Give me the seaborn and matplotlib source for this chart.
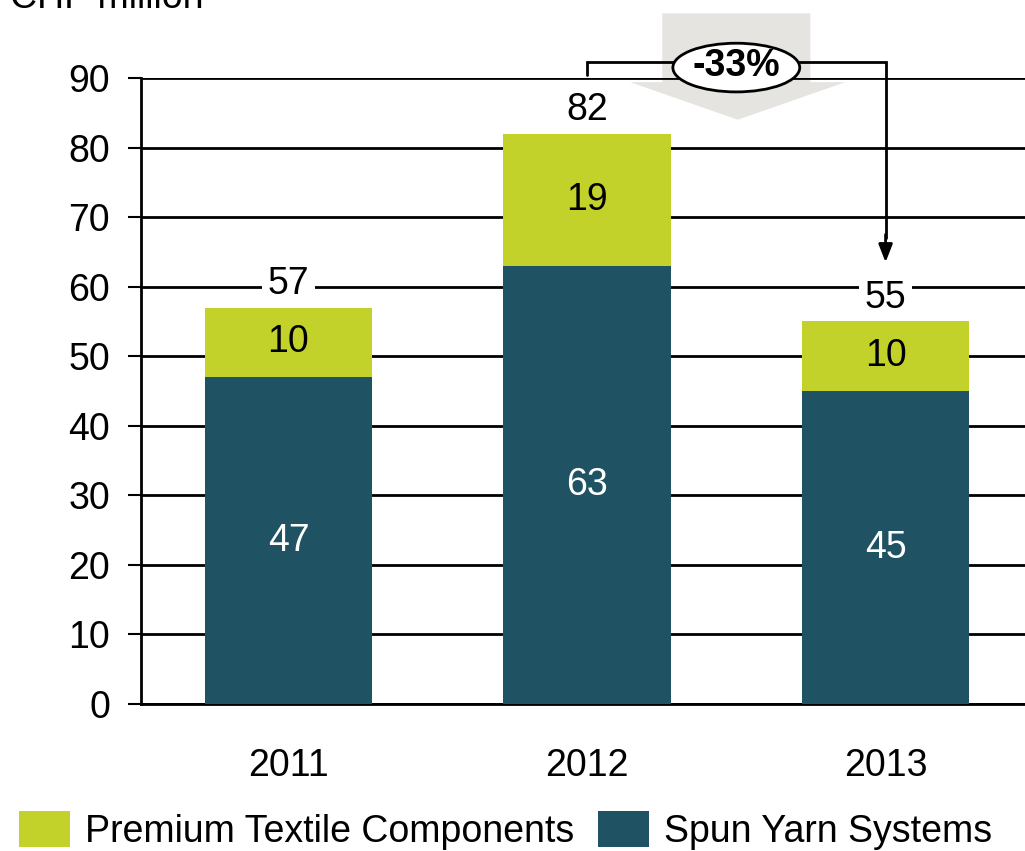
import matplotlib
matplotlib.use("Agg")
import matplotlib.pyplot as plt
import seaborn as sns
import pandas as pd
from matplotlib.patches import Polygon, Ellipse, Patch

# Order intake by segment, CHF million
years = ["2011", "2012", "2013"]
spun_yarn = [47, 63, 45]
premium_textile = [10, 19, 10]
totals = [a + b for a, b in zip(spun_yarn, premium_textile)]
change_label = "-33%"
series_names = ["Premium Textile Components", "Spun Yarn Systems"]

GREEN = "#c2d22a"
TEAL = "#1f5263"
ARROW_GREY = "#e6e4e0"

sns.set_theme(style="white")
plt.rcParams["font.family"] = ["Liberation Sans", "DejaVu Sans"]
plt.rcParams.update({"text.color": "black", "xtick.color": "black",
                     "ytick.color": "black", "axes.labelcolor": "black"})

df = pd.DataFrame({"year": years, "spun": spun_yarn, "total": totals})

fig = plt.figure(figsize=(10.25, 8.51), dpi=100)
ax = fig.add_axes([141 / 1025, 1 - 704 / 851, 1 - 141 / 1025, (704 - 78) / 851])

# stacked bars: full height in green, lower segment in teal on top of it
sns.barplot(data=df, x="year", y="total", order=years, color=GREEN,
            width=0.56, saturation=1, linewidth=0, ax=ax, zorder=2)
sns.barplot(data=df, x="year", y="spun", order=years, color=TEAL,
            width=0.56, saturation=1, linewidth=0, ax=ax, zorder=3)

ax.set_ylim(0, 90)
ax.set_xlim(-0.494, 2.467)
ax.set_yticks(range(0, 91, 10))
ax.set_xlabel("")
ax.set_ylabel("")
ax.set_axisbelow(True)
ax.yaxis.grid(True, color="black", linewidth=2, zorder=0.5)
ax.xaxis.grid(False)
for side in ["top", "right"]:
    ax.spines[side].set_visible(False)
ax.spines["left"].set_color("black")
ax.spines["left"].set_linewidth(2)
ax.spines["bottom"].set_color("black")
ax.spines["bottom"].set_linewidth(2)
ax.tick_params(axis="y", length=9.4, width=1.5, color="black", pad=13,
               labelsize=27, left=True)
ax.tick_params(axis="x", length=0, pad=32, labelsize=27)

# segment and total labels
for i in range(len(years)):
    ax.text(i, spun_yarn[i] / 2, f"{spun_yarn[i]}", ha="center", va="center",
            color="white", fontsize=27, zorder=5)
    ax.text(i, spun_yarn[i] + premium_textile[i] / 2, f"{premium_textile[i]}",
            ha="center", va="center", color="black", fontsize=27, zorder=5)
    ax.annotate(f"{totals[i]}", xy=(i, totals[i]), xytext=(0, 17),
                textcoords="offset points", ha="center", va="center",
                fontsize=27, color="black", zorder=5,
                bbox=dict(boxstyle="square,pad=0.15", fc="white", ec="none"))

# large grey down arrow behind the change marker
mid = 1.5
shaft_half, head_half = 0.248, 0.365
arrow_pts = [(mid - shaft_half, 99.3), (mid + shaft_half, 99.3),
             (mid + shaft_half, 89.4), (mid + head_half, 89.4),
             (mid + 0.005, 84.0), (mid - head_half + 0.01, 89.4),
             (mid - shaft_half, 89.4)]
ax.add_patch(Polygon(arrow_pts, closed=True, fc=ARROW_GREY, ec="none",
                     zorder=0.3, clip_on=False))

# bracket from 2012 to 2013 with arrow head
bracket_y = 92.3
ax.plot([1, 1, 2, 2], [90.4, bracket_y, bracket_y, 67.0], color="black",
        lw=2, zorder=6, clip_on=False, solid_joinstyle="miter")
ax.annotate("", xy=(2, 63.5), xytext=(2, 67.5),
            arrowprops=dict(arrowstyle="-|>,head_length=0.9,head_width=0.35",
                            color="black", lw=2, shrinkA=0, shrinkB=0),
            annotation_clip=False, zorder=6)
ax.add_patch(Ellipse((mid, 91.5), 0.425, 7.0, fc="white", ec="black",
                     lw=2, zorder=7, clip_on=False))
ax.text(mid, 91.7, change_label, ha="center", va="center", fontsize=27,
        fontweight="bold", zorder=8, clip_on=False)

fig.text(10 / 1025, 1 - 8 / 851, "CHF million", fontsize=27, va="baseline",
         ha="left")

handles = [Patch(fc=GREEN, ec="none", label=series_names[0]),
           Patch(fc=TEAL, ec="none", label=series_names[1])]
fig.legend(handles=handles, loc="lower left", bbox_to_anchor=(0.0003, -0.021),
           ncol=2, frameon=False, fontsize=27, handlelength=1.35,
           handleheight=1.1, handletextpad=0.4, columnspacing=0.65,
           borderpad=0.0)

fig.savefig("out.png", dpi=100)
